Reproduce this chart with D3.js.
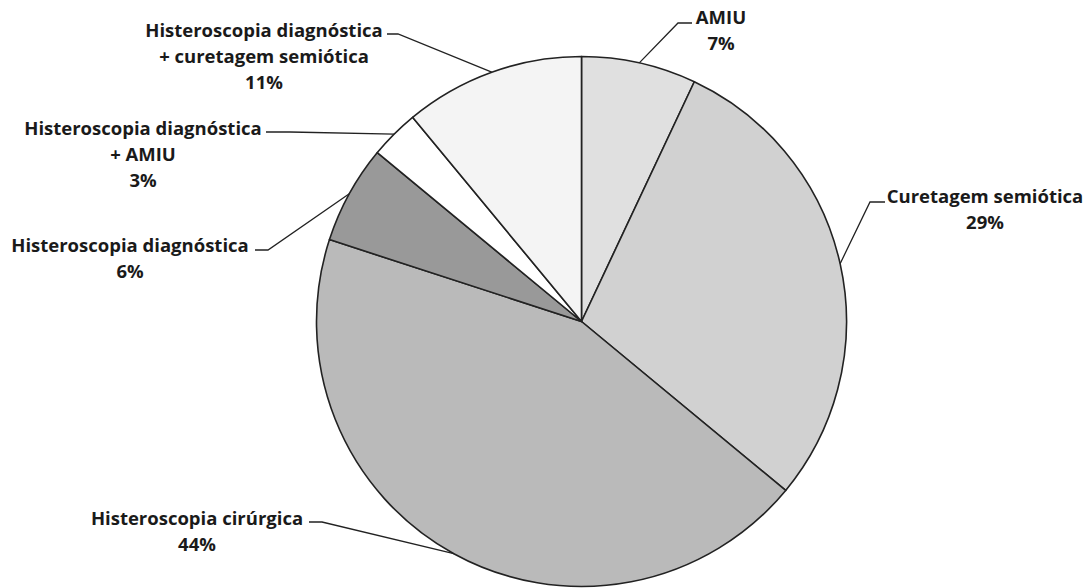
<!DOCTYPE html>
<html>
<head>
<meta charset="utf-8">
<script src="https://cdn.jsdelivr.net/npm/d3@7"></script>
<style>
  html, body { margin: 0; padding: 0; background: #ffffff; }
  svg { display: block; }
  .lbl { font-family: "Open Sans", Lato, sans-serif; font-weight: 700; fill: #1a1a1a; }
</style>
</head>
<body>
<svg id="chart" width="1086" height="588"></svg>
<script>
// Procedures performed (share of cases)
const categories = [
  "AMIU",
  "Curetagem semiótica",
  "Histeroscopia cirúrgica",
  "Histeroscopia diagnóstica",
  "Histeroscopia diagnóstica + AMIU",
  "Histeroscopia diagnóstica + curetagem semiótica"
];
const percentages = [7, 29, 44, 6, 3, 11];
// Label lines for each slice
const labelLines = [
  ["AMIU"],
  ["Curetagem semiótica"],
  ["Histeroscopia cirúrgica"],
  ["Histeroscopia diagnóstica"],
  ["Histeroscopia diagnóstica", "+ AMIU"],
  ["Histeroscopia diagnóstica", "+ curetagem semiótica"]
];
const fills = ["#e0e0e0", "#d1d1d1", "#bababa", "#999999", "#ffffff", "#f4f4f4"];

const svg = d3.select("#chart");
const cx = 581.5, cy = 321.5, r = 265;

const slices = categories.map((c, i) => ({ name: c, value: percentages[i], lines: labelLines[i], fill: fills[i] }));

const pie = d3.pie().sort(null).value(d => d.value);
const arc = d3.arc().innerRadius(0).outerRadius(r);
const arcs = pie(slices);

const g = svg.append("g").attr("transform", `translate(${cx},${cy})`);

g.selectAll("path.slice")
  .data(arcs)
  .join("path")
  .attr("class", "slice")
  .attr("d", arc)
  .attr("fill", d => d.data.fill)
  .attr("stroke", "#222")
  .attr("stroke-width", 1.6)
  .attr("stroke-linejoin", "round");

// Label placement: centre x of the text block, first baseline, and leader elbow/end
const layout = [
  { x: 721, y: 24,  elbow: [678, 23],  end: [692, 23] },
  { x: 985, y: 203, elbow: [870, 202], end: [885, 202] },
  { x: 197, y: 525, elbow: [322, 522], end: [309, 522] },
  { x: 130, y: 252, elbow: [268, 250], end: [255, 250] },
  { x: 143, y: 135, elbow: [290, 132], end: [266, 132] },
  { x: 264, y: 37,  elbow: [398, 34],  end: [387, 34] }
];
const lineGap = 25.8;
const pctFmt = v => v + "%";

arcs.forEach((a, i) => {
  const L = layout[i];
  const mid = (a.startAngle + a.endAngle) / 2;
  const ex = cx + r * Math.sin(mid);
  const ey = cy - r * Math.cos(mid);

  svg.append("polyline")
    .attr("points", [[ex, ey], L.elbow, L.end].map(p => p.join(",")).join(" "))
    .attr("fill", "none")
    .attr("stroke", "#222")
    .attr("stroke-width", 1.3);

  const t = svg.append("text")
    .attr("class", "lbl")
    .attr("text-anchor", "middle")
    .attr("font-size", 18.5);
  const lines = a.data.lines.concat([pctFmt(a.data.value)]);
  lines.forEach((s, k) => {
    t.append("tspan").attr("x", L.x).attr("y", L.y + k * lineGap).text(s);
  });
});
</script>
</body>
</html>
